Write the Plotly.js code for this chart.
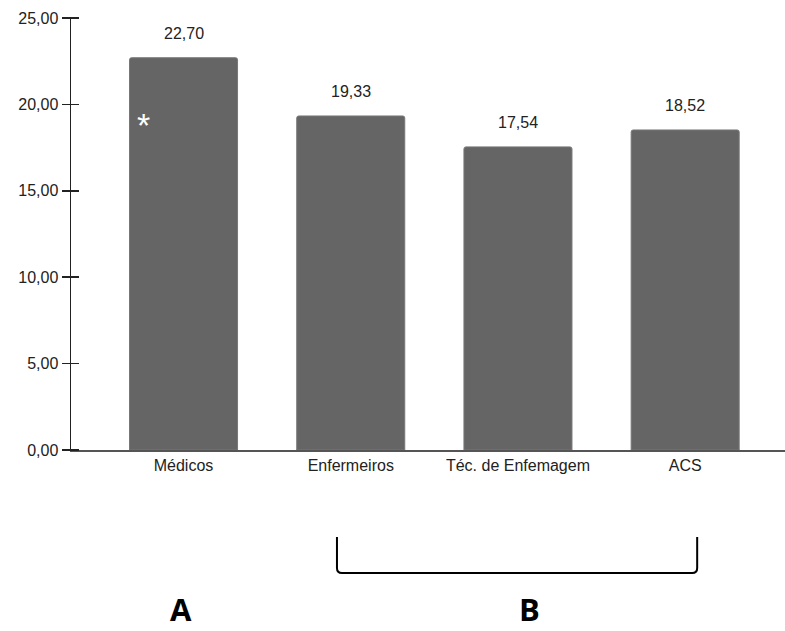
<!DOCTYPE html>
<html>
<head>
<meta charset="utf-8">
<script src="https://cdn.plot.ly/plotly-3.0.1.min.js"></script>
<style>html,body{margin:0;padding:0;background:#fff;}#chart{width:785px;height:631px;}</style>
</head>
<body>
<div id="chart"></div>
<script>
const categories = ["Médicos", "Enfermeiros", "Téc. de Enfemagem", "ACS"];
const values = [22.70, 19.33, 17.54, 18.52];
const yTicks = [0, 5, 10, 15, 20, 25];
const yTickLabels = ["0,00", "5,00", "10,00", "15,00", "20,00", "25,00"];
const groupLabels = ["A", "B"];

const fmt = v => v.toFixed(2).replace(".", ",");
const baseFont = {family: "Liberation Sans, Arial, sans-serif", size: 16, color: "#222"};

const trace = {
  type: "bar",
  x: categories,
  y: values,
  marker: {color: "#656565", cornerradius: 2, line: {color: "#777", width: 1}},
  hoverinfo: "skip"
};
const axisTrace = {type: "scatter", mode: "markers", x: categories, y: values, yaxis: "y2",
  marker: {opacity: 0}, hoverinfo: "skip", showlegend: false};

const annotations = categories.map((c, i) => ({
  x: c, y: values[i], xref: "x", yref: "y",
  text: fmt(values[i]), showarrow: false,
  yanchor: "bottom", yshift: 14, font: baseFont
}));
annotations.push({
  x: -0.242, y: 18.8, xref: "x", yref: "y", text: "*", showarrow: false,
  xanchor: "center", yanchor: "middle",
  font: {family: "Liberation Sans, Arial, sans-serif", size: 34, color: "#fff"}
});
annotations.push({
  x: 0.1535, y: -0.419, xref: "paper", yref: "paper", text: "<b>" + groupLabels[0] + "</b>",
  showarrow: false, xanchor: "center", yanchor: "bottom", borderpad: 0,
  font: {family: "Open Sans, sans-serif", size: 31, color: "#000"}
});
annotations.push({
  x: 0.6415, y: -0.419, xref: "paper", yref: "paper", text: "<b>" + groupLabels[1] + "</b>",
  showarrow: false, xanchor: "center", yanchor: "bottom", borderpad: 0,
  font: {family: "Open Sans, sans-serif", size: 31, color: "#000"}
});

const bx0 = 0.3725, bx1 = 0.877, byT = -0.2014, byB = -0.2847, rx = 0.007, ry = 0.0116;
const bracket = `M ${bx0},${byT} L ${bx0},${byB + ry} Q ${bx0},${byB} ${bx0 + rx},${byB} L ${bx1 - rx},${byB} Q ${bx1},${byB} ${bx1},${byB + ry} L ${bx1},${byT}`;

const layout = {
  width: 785, height: 631,
  margin: {l: 71, r: 0, t: 18, b: 181},
  paper_bgcolor: "#fff", plot_bgcolor: "#fff",
  showlegend: false,
  bargap: 0.354,
  font: baseFont,
  xaxis: {
    type: "category", range: [-0.673, 3.597],
    showgrid: false, zeroline: false,
    showline: true, linecolor: "#555", linewidth: 1.5,
    ticks: "", tickfont: baseFont, fixedrange: true
  },
  yaxis: {
    range: [0, 25], tickvals: yTicks, ticktext: yTickLabels,
    showgrid: false, zeroline: false,
    showline: true, linecolor: "#222", linewidth: 1.5,
    ticks: "outside", ticklen: 8, tickwidth: 1.5, tickcolor: "#222",
    tickfont: baseFont, fixedrange: true
  },
  yaxis2: {
    overlaying: "y", side: "left", anchor: "free", position: 8 / 714,
    range: [0, 25], tickvals: yTicks,
    showticklabels: false, showgrid: false, zeroline: false, showline: false,
    ticks: "outside", ticklen: 16, tickwidth: 1.5, tickcolor: "#222", fixedrange: true
  },
  annotations: annotations,
  shapes: [{type: "path", xref: "paper", yref: "paper", path: bracket,
            line: {color: "#000", width: 2}}]
};

Plotly.newPlot("chart", [trace, axisTrace], layout, {displayModeBar: false, staticPlot: true});
</script>
</body>
</html>
